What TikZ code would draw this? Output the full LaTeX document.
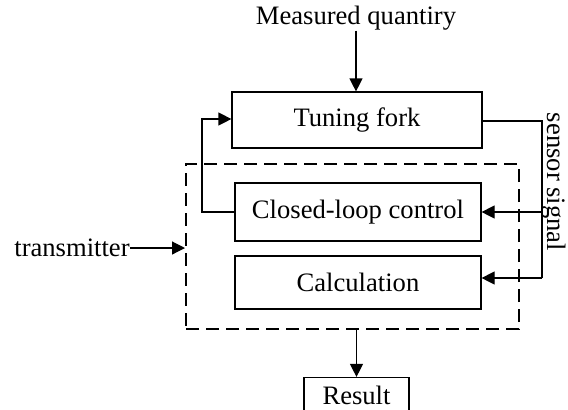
\documentclass[tikz,border=0pt]{standalone}
\usepackage{fontspec}
\setmainfont{Liberation Serif}
\usetikzlibrary{arrows.meta}
\begin{document}
\begin{tikzpicture}[x=0.5pt,y=-0.5pt,
  every node/.style={font=\fontsize{13.3}{16}\selectfont, inner sep=0pt},
  box/.style={draw, line width=0.6pt},
  wire/.style={line width=0.6pt},
  arr/.style={wire, -{Triangle[length=6.5pt,width=6.5pt]}},
  dashbox/.style={draw, line width=1pt, dash pattern=on 6.5pt off 3.5pt}]
\useasboundingbox (0,0) rectangle (568,409);
\node[box, minimum width=125pt, minimum height=28pt] (tf) at (357,120) {Tuning fork};
\node[dashbox, minimum width=166.5pt, minimum height=82.5pt] (tx) at (352.5,246.5) {};
\node[box, minimum width=123pt, minimum height=29pt] (cl) at (358,212) {Closed-loop control};
\node[box, minimum width=123pt, minimum height=26.5pt] (calc) at (358,282.5) {Calculation};
\node (meas) at (356,18) {Measured quantiry};
\node[anchor=east] (trans) at (130,248) {transmitter};
\node[rotate=-90] (sens) at (554,182) {sensor signal};
\node[box, minimum width=52.5pt, minimum height=17.5pt] (res) at (356.5,395) {Result};
\draw[arr] (meas.south) -- (meas.south |- tf.north);
\draw[arr] (trans.east) -- (trans -| tx.west);
\draw[arr] (res.north |- tx.south) -- (res.north);
\coordinate (sr) at (542,121);
\coordinate (sb) at (542,278);
\draw[wire] (tf.east |- sr) -- (sr) -- (sb);
\draw[arr] (sb) -- (sb -| calc.east);
\draw[arr] (sr |- cl.east) -- (cl.east);
\coordinate (lb) at (202,212);
\coordinate (lt) at (202,119);
\draw[arr] (cl.west) -- (lb) -- (lt) -- (lt -| tf.west);
\end{tikzpicture}
\end{document}
